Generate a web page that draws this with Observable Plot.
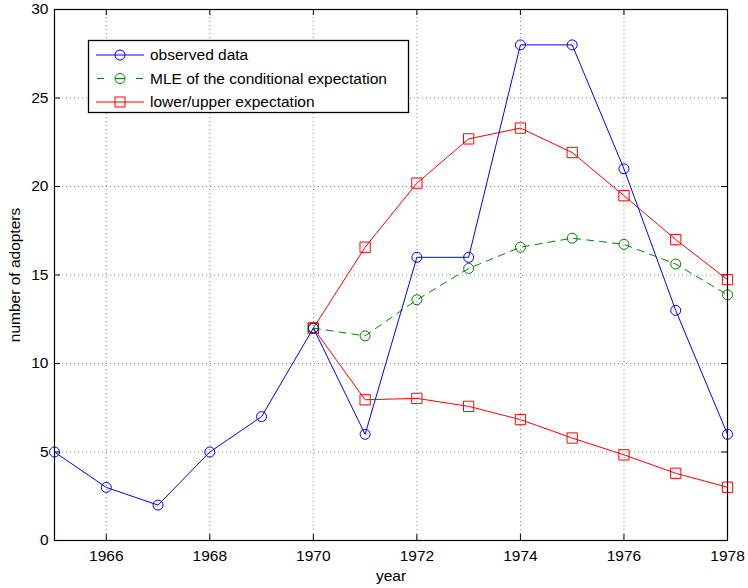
<!DOCTYPE html>
<html><head><meta charset="utf-8">
<script src="https://cdn.jsdelivr.net/npm/d3@7"></script>
<script src="https://cdn.jsdelivr.net/npm/@observablehq/plot@0.6"></script>
<style>body{margin:0;background:#fff;} #chart{width:748px;height:588px;}</style>
</head><body><div id="chart"></div>
<script>
const years = [1965,1966,1967,1968,1969,1970,1971,1972,1973,1974,1975,1976,1977,1978];
const observed = [5,3,2,5,7,12,6,16,16,28,28,21,13,6];
const condYears = [1970,1971,1972,1973,1974,1975,1976,1977,1978];
const mle = [12,11.56,13.6,15.37,16.57,17.08,16.73,15.62,13.88];
const upper = [12,16.57,20.19,22.69,23.3,21.92,19.48,17.0,14.74];
const lower = [12,7.95,8.03,7.58,6.83,5.79,4.84,3.8,3.01];
const xTicks = [1966,1968,1970,1972,1974,1976,1978];
const yTicks = [0,5,10,15,20,25,30];
const legendLabels = ["observed data","MLE of the conditional expectation","lower/upper expectation"];
const colors = {obs:"#0000ff", mle:"#008000", bound:"#ff0000"};

const W = 748, H = 588, mL = 54, mR = 21, mT = 9, mB = 48;
const fw = W - mL - mR, fh = H - mT - mB, tk = 6;

const obsData = years.map((x,i)=>({x, y: observed[i]}));
const mleData = condYears.map((x,i)=>({x, y: mle[i]}));
const upData = condYears.map((x,i)=>({x, y: upper[i]}));
const loData = condYears.map((x,i)=>({x, y: lower[i]}));
const fmt = d => String(d);

const chart = Plot.plot({
  width: W, height: H,
  marginLeft: mL, marginRight: mR, marginTop: mT, marginBottom: mB,
  style: {fontFamily: "'Liberation Sans', Arial, sans-serif", fontSize: "15.5px", color: "black", background: "white"},
  x: {domain: [1965, 1978]},
  y: {domain: [0, 30]},
  marks: [
    Plot.gridX(xTicks.filter(d => d < 1978), {stroke: "#888", strokeOpacity: 1, strokeDasharray: "1,3"}),
    Plot.gridY(yTicks.filter(d => d > 0 && d < 30), {stroke: "#888", strokeOpacity: 1, strokeDasharray: "1,3"}),
    Plot.tickX(xTicks, {x: d => d, insetTop: fh - tk, stroke: "black"}),
    Plot.tickX(xTicks, {x: d => d, insetBottom: fh - tk, stroke: "black"}),
    Plot.tickY(yTicks, {y: d => d, insetRight: fw - tk, stroke: "black"}),
    Plot.tickY(yTicks, {y: d => d, insetLeft: fw - tk, stroke: "black"}),
    Plot.axisX({ticks: xTicks, tickSize: 0, tickPadding: 9, tickFormat: fmt, label: "year", labelAnchor: "center", labelArrow: "none", labelOffset: 40, fill: "black"}),
    Plot.axisY({ticks: yTicks, tickSize: 0, tickPadding: 6, tickFormat: fmt, label: "number of adopters", labelAnchor: "center", labelArrow: "none", labelOffset: 46, fill: "black"}),
    Plot.line(upData, {x: "x", y: "y", stroke: colors.bound, strokeWidth: 1}),
    Plot.line(loData, {x: "x", y: "y", stroke: colors.bound, strokeWidth: 1}),
    Plot.line(mleData, {x: "x", y: "y", stroke: colors.mle, strokeWidth: 1, strokeDasharray: "7,6"}),
    Plot.line(obsData, {x: "x", y: "y", stroke: colors.obs, strokeWidth: 1}),
    Plot.dot(upData, {x: "x", y: "y", symbol: "square", r: 5.8, stroke: colors.bound, fill: "none", strokeWidth: 1}),
    Plot.dot(loData, {x: "x", y: "y", symbol: "square", r: 5.8, stroke: colors.bound, fill: "none", strokeWidth: 1}),
    Plot.dot(mleData, {x: "x", y: "y", r: 5, stroke: colors.mle, fill: "none", strokeWidth: 1}),
    Plot.dot(obsData, {x: "x", y: "y", r: 5, stroke: colors.obs, fill: "none", strokeWidth: 1}),
    Plot.frame({stroke: "black", strokeWidth: 1.2})
  ]
});
document.getElementById("chart").appendChild(chart);

// legend inside the plot area
const svg = d3.select(chart);
const lg = svg.append("g").attr("text-anchor", "start");
lg.append("rect").attr("x", 88.5).attr("y", 40.5).attr("width", 320).attr("height", 72)
  .attr("fill", "white").attr("stroke", "black").attr("stroke-width", 1.3);
const rows = [
  {label: legendLabels[0], color: colors.obs, dash: false, sym: "circle"},
  {label: legendLabels[1], color: colors.mle, dash: true, sym: "circle"},
  {label: legendLabels[2], color: colors.bound, dash: false, sym: "square"}
];
rows.forEach((r, i) => {
  const cy = 55 + i * 23.5;
  if (r.dash) {
    lg.append("line").attr("x1", 97).attr("x2", 104).attr("y1", cy).attr("y2", cy).attr("stroke", r.color);
    lg.append("line").attr("x1", 136).attr("x2", 143).attr("y1", cy).attr("y2", cy).attr("stroke", r.color);
    lg.append("line").attr("x1", 115).attr("x2", 125).attr("y1", cy).attr("y2", cy).attr("stroke", r.color);
  } else {
    lg.append("line").attr("x1", 96).attr("x2", 144).attr("y1", cy).attr("y2", cy).attr("stroke", r.color);
  }
  if (r.sym === "circle") {
    lg.append("circle").attr("cx", 120).attr("cy", cy).attr("r", 5).attr("fill", "none").attr("stroke", r.color);
  } else {
    lg.append("rect").attr("x", 115).attr("y", cy - 5).attr("width", 10).attr("height", 10).attr("fill", "none").attr("stroke", r.color);
  }
  lg.append("text").attr("x", 150).attr("y", cy).attr("dy", "0.35em").attr("fill", "black").text(r.label);
});
</script>
</body></html>
